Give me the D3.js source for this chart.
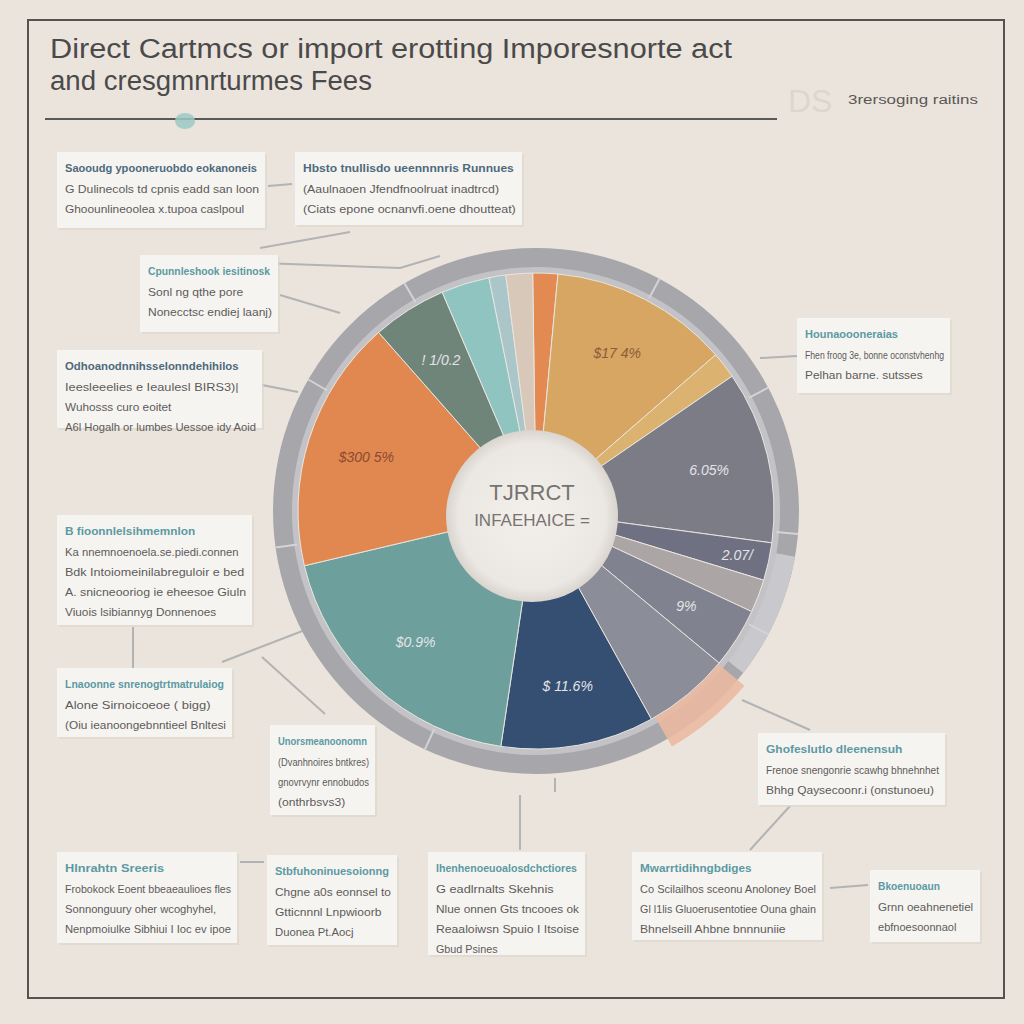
<!DOCTYPE html>
<html>
<head>
<meta charset="utf-8">
<script src="https://cdn.jsdelivr.net/npm/d3@7"></script>
<style>
  html, body { margin: 0; padding: 0; background: #ebe4dc; }
  svg { display: block; font-family: "Liberation Sans", Arial, sans-serif; }
</style>
</head>
<body>
<svg id="chart" width="1024" height="1024"></svg>
<script>
// slice shares (degrees of the wheel), clockwise from top
const sliceKeys = ['orangeTop', 'gold', 'goldLight', 'slate', 'slateDark', 'stone', 'greyBlue', 'greyBlue2',
  'navy', 'teal', 'orange', 'sage', 'aqua', 'mist', 'sand'];
const sliceValues = [6.1, 43.7, 6.5, 42.2, 9.2, 8.1, 14.7, 21.3, 37.5, 68.2, 61.9, 18.2, 11.8, 4.1, 6.5];
const sliceColors = ['#e38a52', '#d6a662', '#dcb270', '#7c7c87', '#6f7182', '#aba6a5', '#80838f', '#8b8d99',
  '#354f73', '#6d9f9c', '#e0884f', '#70857a', '#8fc4c1', '#abc6c9', '#d8c8b9'];
const sliceLabels = ['', '$17 4%', '', '6.05%', '2.07/', '', '9%', '', '$ 11.6%', '$0.9%', '$300 5%', 'ǃ 1/0.2', '', '', ''];
const sliceLabelColors = { gold: '#8c5b3c', orange: '#8c4a33' };

const titleLines = ['Direct Cartmcs or import erotting Imporesnorte act', 'and cresgmnrturmes Fees'];
const cornerNote = '3rersoging raitins';
const centerLines = ['TJRRCT', 'INFAEHAICE ='];

// annotation boxes: [x, y, w, h], title, body lines
const notes = [
  { box: [57, 152, 208, 76], title: 'Saooudg ypooneruobdo eokanoneis', lines: ['G Dulinecols td cpnis eadd  san loon', 'Ghoounlineoolea x.tupoa caslpoul'] },
  { box: [295, 152, 227, 73], title: 'Hbsto tnullisdo ueennnnris Runnues', lines: ['(Aaulnaoen Jfendfnoolruat inadtrcd)', '(Ciats  epone ocnanvfi.oene dhoutteat)'] },
  { box: [140, 255, 138, 77], title: 'Cpunnleshook iesitinosk', lines: ['Sonl ng qthe pore', 'Nonecctsc endiej laanj)'], teal: true },
  { box: [57, 350, 205, 78], title: 'Odhoanodnnihsselonndehihilos', lines: ['Ieesleeelies e Ieaulesl BIRS3)|', 'Wuhosss curo eoitet', 'A6l Hogalh or lumbes Uessoe idy Aoid'] },
  { box: [797, 318, 153, 75], title: 'Hounaoooneraias', lines: ['Fhen froog 3e, bonne oconstvhenhg', 'Pelhan barne. sutsses'], teal: true },
  { box: [57, 515, 195, 110], title: 'B fioonnlelsihmemnlon', lines: ['Ka nnemnoenoela.se.piedi.connen', 'Bdk Intoiomeinilabreguloir e bed', 'A.  snicneooriog ie eheesoe Giuln', 'Viuois lsibiannyg Donnenoes'], teal: true },
  { box: [57, 668, 175, 69], title: 'Lnaoonne snrenogtrtmatrulaiog', lines: ['Alone  Sirnoicoeoe ( bigg)', '(Oiu ieanoongebnntieel  Bnltesi'], teal: true },
  { box: [270, 725, 105, 90], title: 'Unorsmeanoonomn', lines: ['(Dvanhnoires bntkres)', 'gnovrvynr ennobudos', '(onthrbsvs3)'], teal: true },
  { box: [758, 733, 187, 72], title: 'Ghofeslutlo dleenensuh', lines: ['Frenoe  snengonrie scawhg bhnehnhet', 'Bhhg  Qaysecoonr.i (onstunoeu)'], teal: true },
  { box: [57, 852, 180, 91], title: 'Hlnrahtn Sreeris', lines: ['Frobokock Eoent bbeaeaulioes  fles', 'Sonnonguury oher wcoghyhel,', 'Nenpmoiulke Sibhiui I Ioc ev ipoe'], teal: true },
  { box: [267, 855, 130, 90], title: 'Stbfuhoninuesoionng', lines: ['Chgne  a0s eonnsel to', 'Gtticnnnl Lnpwioorb', 'Duonea Pt.Aocj'], teal: true },
  { box: [428, 852, 157, 103], title: 'Ihenhenoeuoalosdchctiores', lines: ['G eadlrnalts  Skehnis', 'Nlue onnen  Gts  tncooes ok', 'Reaaloiwsn Spuio I Itsoise', 'Gbud Psines'], teal: true },
  { box: [632, 852, 190, 88], title: 'Mwarrtidihngbdiges', lines: ['Co  Scilailhos  sceonu  Anoloney  Boel', 'Gl l1lis  Gluoerusentotiee  Ouna ghain', 'Bhnelseill Ahbne bnnnuniie'], teal: true },
  { box: [870, 870, 110, 72], title: 'Bkoenuoaun', lines: ['Grnn oeahnenetiel', 'ebfnoesoonnaol'], teal: true }
];

// connector strokes between boxes and wheel
const connectors = [
  [[268, 186], [292, 184]], [[260, 248], [350, 232]], [[232, 262], [400, 268], [440, 256]],
  [[280, 295], [340, 313]], [[262, 385], [298, 392]], [[133, 627], [133, 668]],
  [[222, 662], [305, 630]], [[262, 657], [325, 714]], [[520, 795], [520, 850]],
  [[750, 850], [790, 806]], [[742, 700], [810, 730]], [[240, 862], [264, 862]],
  [[830, 888], [868, 885]], [[760, 358], [797, 356]], [[555, 778], [555, 792]]
];

const svg = d3.select('#chart');
const W = 1024;

svg.append('rect').attr('width', W).attr('height', W).attr('fill', '#ebe4dc');
svg.append('rect').attr('x', 28).attr('y', 20).attr('width', 976).attr('height', 978)
  .attr('fill', 'none').attr('stroke', '#56534f').attr('stroke-width', 2);

// title
const titleWidths = [682, 322];
svg.selectAll('.title').data(titleLines).join('text')
  .attr('class', 'title')
  .attr('x', 50).attr('y', (d, i) => 58 + i * 32)
  .attr('fill', '#4b4a4a').attr('font-size', 27)
  .attr('textLength', (d, i) => titleWidths[i])
  .attr('lengthAdjust', 'spacingAndGlyphs')
  .text(d => d);

svg.append('line').attr('x1', 45).attr('x2', 777).attr('y1', 119).attr('y2', 119)
  .attr('stroke', '#58575a').attr('stroke-width', 2);
svg.append('ellipse').attr('cx', 185).attr('cy', 121).attr('rx', 10).attr('ry', 8).attr('fill', '#9cc8c4').attr('opacity', 0.85);

svg.append('text').attr('x', 788).attr('y', 112).attr('font-size', 32).attr('fill', '#ddd6ce').text('DS');
svg.append('text').attr('x', 848).attr('y', 104).attr('font-size', 12).attr('fill', '#5a5756')
  .attr('textLength', 130).attr('lengthAdjust', 'spacingAndGlyphs').text(cornerNote);

// connectors
const lineGen = d3.line();
svg.selectAll('.conn').data(connectors).join('path')
  .attr('class', 'conn')
  .attr('d', d => lineGen(d))
  .attr('fill', 'none').attr('stroke', '#a3a6aa').attr('stroke-width', 2).attr('opacity', 0.8);

// wheel
const cx = 536, cy = 511;
const wheel = svg.append('g').attr('transform', `translate(${cx},${cy})`);
const deg = Math.PI / 180;

// outer ring
wheel.append('path')
  .attr('d', d3.arc()({ innerRadius: 241, outerRadius: 263, startAngle: 0, endAngle: 2 * Math.PI }))
  .attr('fill', '#a6a6ab');
wheel.append('path')
  .attr('d', d3.arc()({ innerRadius: 241, outerRadius: 263, startAngle: 100 * deg, endAngle: 128 * deg }))
  .attr('fill', '#c9c9cd');
wheel.append('path')
  .attr('d', d3.arc()({ innerRadius: 238, outerRadius: 244, startAngle: 0, endAngle: 2 * Math.PI }))
  .attr('fill', '#c3c3c7');
const ringTicks = [28, 62, 95, 118, 205, 262, 300, 330];
wheel.selectAll('.rtick').data(ringTicks).join('line')
  .attr('class', 'rtick')
  .attr('x1', d => Math.sin(d * deg) * 241).attr('y1', d => -Math.cos(d * deg) * 241)
  .attr('x2', d => Math.sin(d * deg) * 263).attr('y2', d => -Math.cos(d * deg) * 263)
  .attr('stroke', '#d4d4d6').attr('stroke-width', 2);

// peach piece sticking out on the lower right
wheel.append('path')
  .attr('d', d3.arc()({ innerRadius: 232, outerRadius: 272, startAngle: 130 * deg, endAngle: 150 * deg }))
  .attr('fill', '#ebb9a2').attr('opacity', 0.9);

const pie = d3.pie().sort(null).value(d => d.v)
  .startAngle(-0.8 * deg).endAngle(359.2 * deg);
const sliceData = sliceKeys.map((k, i) => ({ k, v: sliceValues[i], c: sliceColors[i], label: sliceLabels[i] }));
const arcs = pie(sliceData);
const arc = d3.arc().innerRadius(0).outerRadius(238);

wheel.selectAll('.slice').data(arcs).join('path')
  .attr('class', 'slice')
  .attr('d', arc)
  .attr('fill', d => d.data.c)
  .attr('stroke', '#e8e4de').attr('stroke-width', 1);

const labelArc = d3.arc().innerRadius(178).outerRadius(178);
const outerLabelArc = d3.arc().innerRadius(206).outerRadius(206);
wheel.selectAll('.slabel').data(arcs.filter(d => d.data.label)).join('text')
  .attr('class', 'slabel')
  .attr('transform', d => {
    const [x, y] = (d.data.k === 'slateDark' ? outerLabelArc : labelArc).centroid(d);
    return `translate(${x},${y})`;
  })
  .attr('text-anchor', 'middle').attr('dy', '0.35em')
  .attr('font-size', 14).attr('font-style', 'italic')
  .attr('fill', d => sliceLabelColors[d.data.k] || '#e4e4e8')
  .text(d => d.data.label);

// hub
const hubGrad = svg.append('defs').append('radialGradient').attr('id', 'hub');
hubGrad.append('stop').attr('offset', '0%').attr('stop-color', '#f3f0ec');
hubGrad.append('stop').attr('offset', '85%').attr('stop-color', '#ebe7e2');
hubGrad.append('stop').attr('offset', '100%').attr('stop-color', '#d9d4ce');
svg.append('circle').attr('cx', 532).attr('cy', 516).attr('r', 86).attr('fill', 'url(#hub)');
svg.selectAll('.hubtxt').data(centerLines).join('text')
  .attr('class', 'hubtxt')
  .attr('x', 532).attr('y', (d, i) => 500 + i * 26)
  .attr('text-anchor', 'middle')
  .attr('font-size', (d, i) => i === 0 ? 22 : 17)
  .attr('fill', '#777371')
  .text(d => d);

// annotation boxes
const noteG = svg.selectAll('.note').data(notes).join('g').attr('class', 'note')
  .attr('transform', d => `translate(${d.box[0]},${d.box[1]})`);
noteG.append('rect')
  .attr('x', 2).attr('y', 2)
  .attr('width', d => d.box[2]).attr('height', d => d.box[3])
  .attr('fill', '#dcd5cc').attr('opacity', 0.6);
noteG.append('rect')
  .attr('width', d => d.box[2]).attr('height', d => d.box[3])
  .attr('fill', '#f6f4f1');
noteG.append('text')
  .attr('x', 8).attr('y', 20)
  .attr('font-size', 11).attr('font-weight', 'bold')
  .attr('fill', d => d.teal ? '#5b9aa3' : '#4d6a7c')
  .attr('textLength', d => Math.min(d.box[2] - 16, d.title.length * 6.2))
  .attr('lengthAdjust', 'spacingAndGlyphs')
  .text(d => d.title);
noteG.each(function (d) {
  const g = d3.select(this);
  g.selectAll('.ln').data(d.lines).join('text')
    .attr('class', 'ln')
    .attr('x', 8).attr('y', (t, i) => 41 + i * 20)
    .attr('font-size', 11.5).attr('fill', '#5d5b5a')
    .attr('textLength', t => Math.min(d.box[2] - 14, t.length * 5.6))
    .attr('lengthAdjust', 'spacingAndGlyphs')
    .text(t => t);
});
</script>
</body>
</html>
